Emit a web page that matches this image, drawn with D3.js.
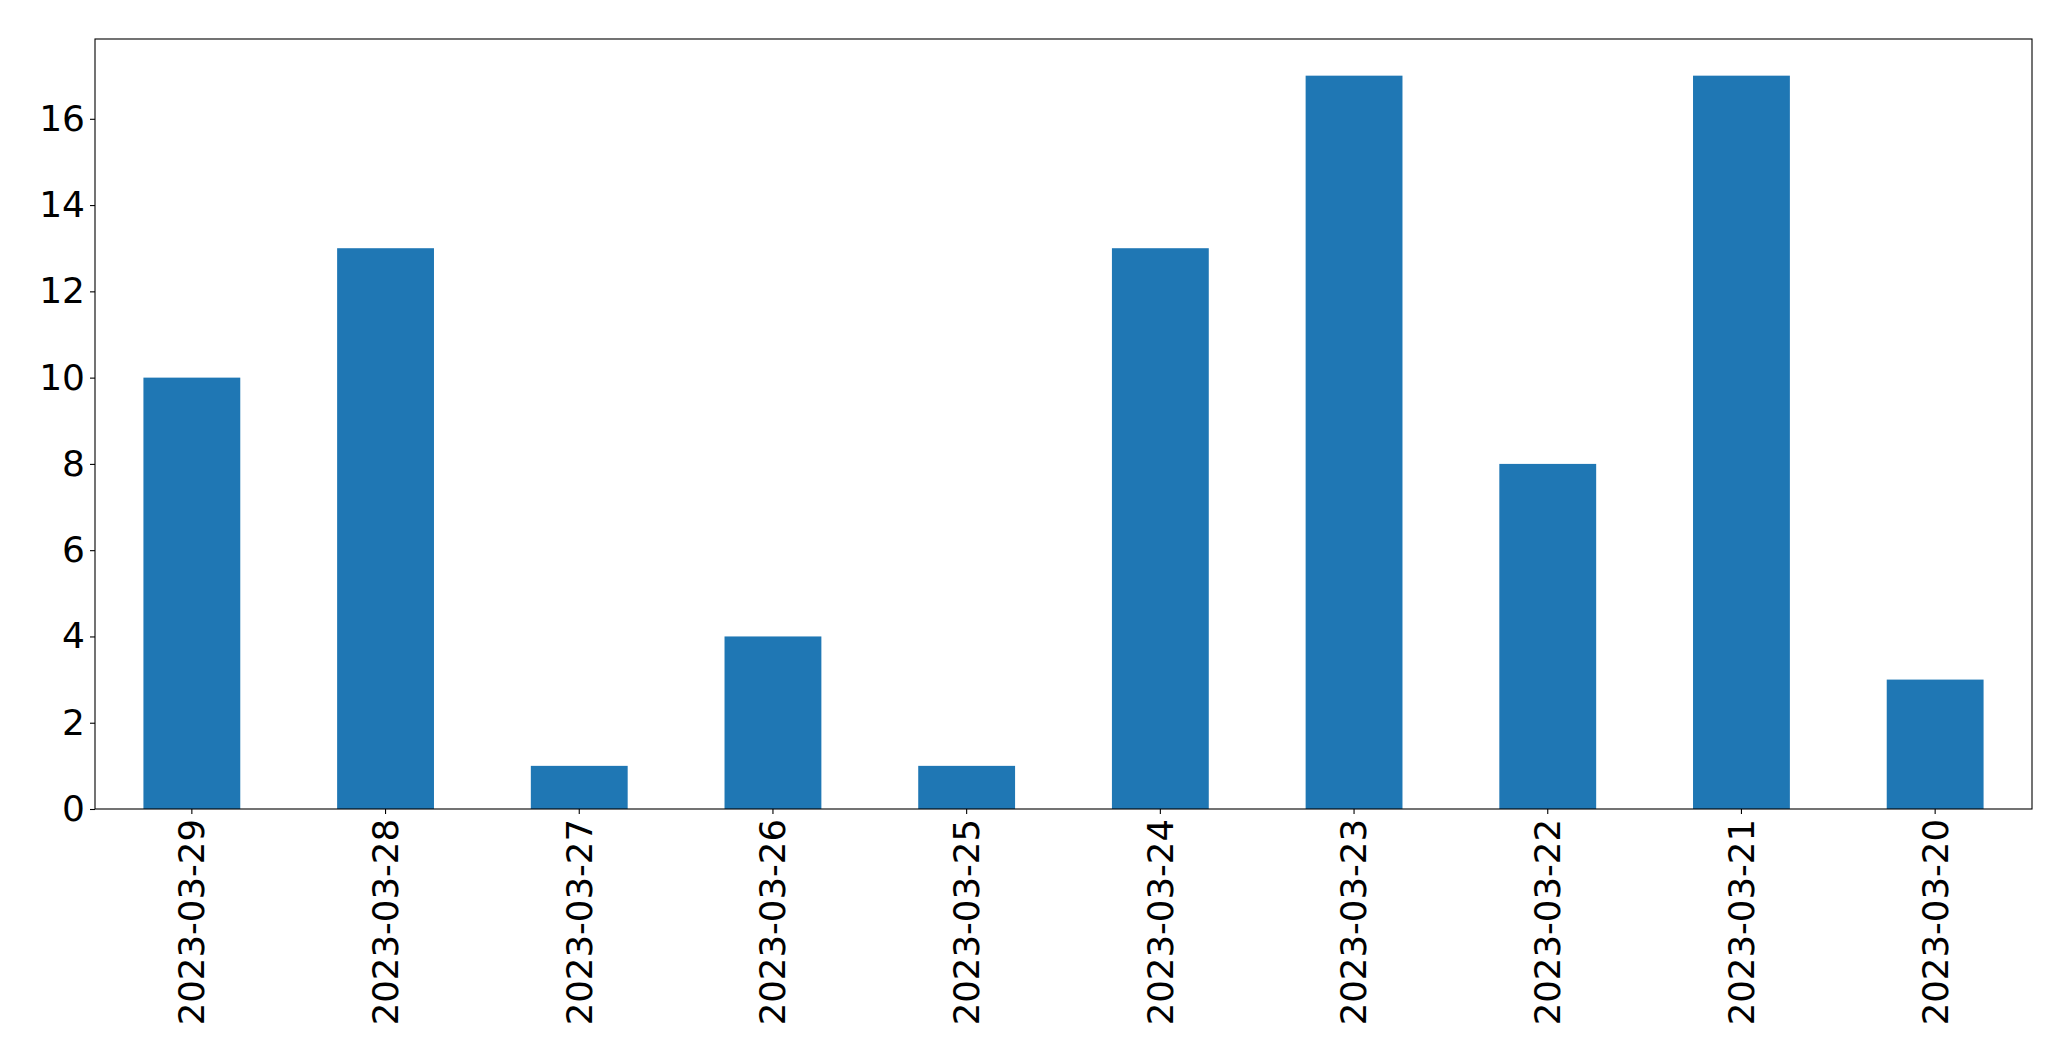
<!DOCTYPE html>
<html>
<head>
<meta charset="utf-8">
<script src="https://cdn.jsdelivr.net/npm/d3@7"></script>
<style>
  body { margin: 0; background: #fff; }
  svg text { font-family: "DejaVu Sans", sans-serif; fill: #000; }
</style>
</head>
<body>
<div id="container"></div>
<script>
// Data
const dates = ['2023-03-29', '2023-03-28', '2023-03-27', '2023-03-26', '2023-03-25',
               '2023-03-24', '2023-03-23', '2023-03-22', '2023-03-21', '2023-03-20'];
const counts = [10, 13, 1, 4, 1, 13, 17, 8, 17, 3];
const yTicks = [0, 2, 4, 6, 8, 10, 12, 14, 16];

const width = 2071;
const height = 1061;
const padding = { top: 39, right: 39, bottom: 252, left: 95 };
const chartArea = {
    width: width - padding.left - padding.right,
    height: height - padding.top - padding.bottom
};

const svg = d3.select('#container').append('svg')
    .attr('width', width)
    .attr('height', height);

const g = svg.append('g')
    .attr('transform', 'translate(' + padding.left + ',' + padding.top + ')');

// X scale: bars 0.5 wide in a unit slot, like pandas bar plot
const xScale = d3.scaleBand()
    .domain(dates)
    .range([0, chartArea.width])
    .paddingInner(0.5)
    .paddingOuter(0.25);

const yScale = d3.scaleLinear()
    .domain([0, d3.max(counts) * 1.05])
    .range([chartArea.height, 0]);

// Bars
g.selectAll('rect.bar')
    .data(counts)
    .enter()
    .append('rect')
    .attr('class', 'bar')
    .attr('x', (d, i) => xScale(dates[i]))
    .attr('y', d => yScale(d))
    .attr('width', xScale.bandwidth())
    .attr('height', d => chartArea.height - yScale(d))
    .attr('fill', '#1f77b4');

// Y axis
const yAxis = g.append('g')
    .call(d3.axisLeft(yScale).tickValues(yTicks).tickFormat(d3.format('d')).tickSize(5).tickPadding(5));
yAxis.select('.domain').remove();
yAxis.selectAll('text').style('font-size', '36px');
yAxis.selectAll('line').attr('stroke', '#000').attr('stroke-width', 1.1);

// X axis
const xAxis = g.append('g')
    .attr('transform', 'translate(0,' + chartArea.height + ')')
    .call(d3.axisBottom(xScale).tickSize(5).tickPadding(5));
xAxis.select('.domain').remove();
xAxis.selectAll('line').attr('stroke', '#000').attr('stroke-width', 1.1);
xAxis.selectAll('text')
    .style('font-size', '35.5px')
    .attr('text-anchor', 'end')
    .attr('dy', '0.35em')
    .attr('x', 0)
    .attr('y', 0)
    .attr('transform', 'translate(0,10) rotate(-90)');

// Frame
g.append('rect')
    .attr('x', 0)
    .attr('y', 0)
    .attr('width', chartArea.width)
    .attr('height', chartArea.height)
    .attr('fill', 'none')
    .attr('stroke', '#000')
    .attr('stroke-width', 1.1);
</script>
</body>
</html>
